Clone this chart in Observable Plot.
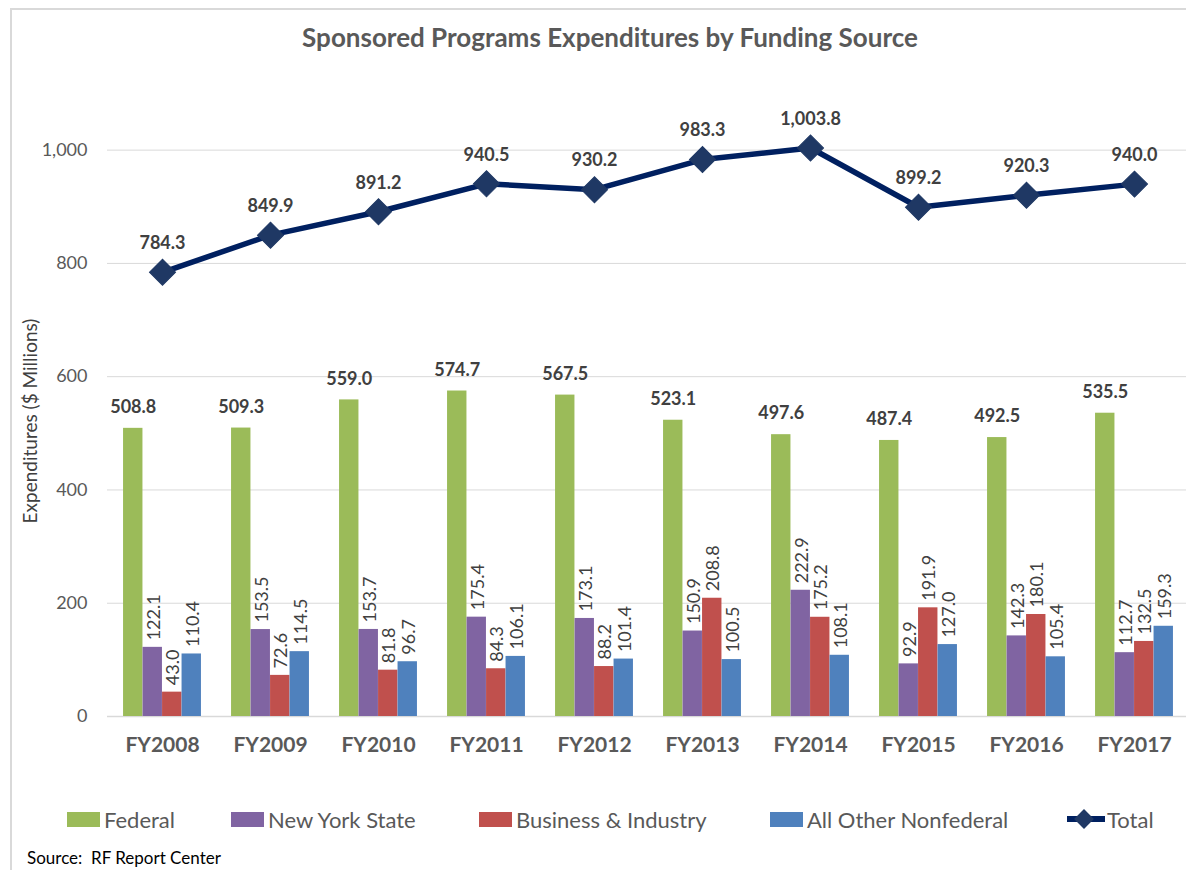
<!DOCTYPE html>
<html>
<head>
<meta charset="utf-8">
<script src="https://cdn.jsdelivr.net/npm/d3@7"></script>
<script src="https://cdn.jsdelivr.net/npm/@observablehq/plot@0.6"></script>
<style>
  html, body { margin: 0; padding: 0; background: #fff; }
  #wrap { position: relative; width: 1186px; height: 870px; overflow: hidden; font-family: Lato, "Open Sans", sans-serif; }
  #frame { position: absolute; left: 10px; top: 8px; width: 1200px; height: 900px; border-left: 2px solid #d9d9d9; border-top: 2px solid #d9d9d9; }
  #title { position: absolute; left: 0; top: 21px; width: 1220px; text-align: center; font-size: 26px; font-weight: bold; color: #595959; }
  #ylabel { position: absolute; left: 29px; top: 421px; transform: translate(-50%, -50%) rotate(-90deg); white-space: nowrap; font-size: 19px; color: #404040; }
  #chart { position: absolute; left: 0; top: 0; }
  .leg { position: absolute; top: 805px; height: 28px; font-size: 22px; color: #595959; display: flex; align-items: center; white-space: nowrap; }
  .sw { width: 33px; height: 15px; margin-right: 4px; }
  #source { position: absolute; left: 27px; top: 847px; font-size: 17px; color: #000; }
</style>
</head>
<body>
<div id="wrap">
  <div id="frame"></div>
  <div id="chart"></div>
  <div id="title">Sponsored Programs Expenditures by Funding Source</div>
  <div id="ylabel">Expenditures ($ Millions)</div>
  <div id="legend"></div>
  <div id="source">Source:&nbsp; RF Report Center</div>
</div>
<script>
const years = ["FY2008","FY2009","FY2010","FY2011","FY2012","FY2013","FY2014","FY2015","FY2016","FY2017"];
const federal = [508.8,509.3,559.0,574.7,567.5,523.1,497.6,487.4,492.5,535.5];
const newYorkState = [122.1,153.5,153.7,175.4,173.1,150.9,222.9,92.9,142.3,112.7];
const businessIndustry = [43.0,72.6,81.8,84.3,88.2,208.8,175.2,191.9,180.1,132.5];
const allOtherNonfederal = [110.4,114.5,96.7,106.1,101.4,100.5,108.1,127.0,105.4,159.3];
const total = [784.3,849.9,891.2,940.5,930.2,983.3,1003.8,899.2,920.3,940.0];
const yTicks = [0,200,400,600,800,1000];

const seriesNames = ["Federal","New York State","Business & Industry","All Other Nonfederal"];
const seriesValues = [federal, newYorkState, businessIndustry, allOtherNonfederal];
const seriesColors = ["#9BBB59","#8064A2","#C0504D","#4F81BD"];

const X0 = 107, X1 = 1188;
const bw = (X1 - X0) / years.length;
const barW = 19.5;
const off = (bw - 4 * barW) / 2;
const labelColor = "#404040";
const fmt1 = d3.format(".1f");
const fmtT = d3.format(",.1f");

const marks = [
  Plot.gridY(yTicks.slice(1), {stroke: "#d9d9d9", strokeOpacity: 1}),
  Plot.ruleY([0], {stroke: "#d9d9d9", strokeWidth: 1.5})
];

seriesValues.forEach((vals, i) => {
  const data = years.map((y, j) => ({year: y, value: vals[j]}));
  marks.push(Plot.barY(data, {
    x: "year", y: "value", fill: seriesColors[i],
    insetLeft: off + barW * i, insetRight: bw - off - barW * (i + 1)
  }));
  const dx = off + barW * (i + 0.5) - bw / 2;
  if (i === 0) {
    marks.push(Plot.text(data, {
      x: "year", y: "value", text: d => fmt1(d.value), dx, dy: -21,
      fontSize: 18, fontWeight: "bold", fill: labelColor
    }));
  } else {
    marks.push(Plot.text(data, {
      x: "year", y: "value", text: d => fmt1(d.value), dx: dx + 1, dy: -7,
      rotate: -90, textAnchor: "start", fontSize: 18, fill: labelColor
    }));
  }
});

const totalData = years.map((y, j) => ({year: y, value: total[j]}));
marks.push(
  Plot.line(totalData, {x: "year", y: "value", stroke: "#002060", strokeWidth: 5.5}),
  Plot.dot(totalData, {x: "year", y: "value", symbol: "square", r: 10.4, rotate: 45, fill: "#1F3864", stroke: "#1F3864", strokeWidth: 1}),
  Plot.text(totalData, {x: "year", y: "value", text: d => fmtT(d.value), dy: -29, fontSize: 18, fontWeight: "bold", fill: labelColor}),
  Plot.axisY({ticks: yTicks, tickFormat: d3.format(",d"), tickSize: 0, tickPadding: 20, fontSize: 18, fill: "#595959", label: null}),
  Plot.axisX({tickSize: 0, tickPadding: 21, fontSize: 21, fontWeight: "bold", fill: "#595959", label: null})
);

const chart = Plot.plot({
  width: 1186,
  height: 760,
  marginTop: 93,
  marginBottom: 44,
  marginLeft: 107,
  marginRight: 0,
  style: {fontFamily: "Lato, 'Open Sans', sans-serif", overflow: "visible", background: "transparent"},
  x: {domain: years, range: [X0, X1], padding: 0},
  y: {domain: [0, 1100], range: [716, 93]},
  marks
});
document.getElementById("chart").appendChild(chart);

// legend
const legend = document.getElementById("legend");
const legX = [67, 231, 479, 770];
seriesNames.forEach((name, i) => {
  const el = document.createElement("div");
  el.className = "leg";
  el.style.left = legX[i] + "px";
  el.innerHTML = `<div class="sw" style="background:${seriesColors[i]}"></div><span>${name}</span>`;
  legend.appendChild(el);
});
const tl = document.createElement("div");
tl.className = "leg";
tl.style.left = "1065px";
tl.innerHTML = `<svg width="42" height="28" style="display:block"><line x1="2" y1="14" x2="40" y2="14" stroke="#002060" stroke-width="6"/><rect x="12" y="7" width="14" height="14" transform="rotate(45 19 14)" fill="#1F3864"/></svg><span>Total</span>`;
legend.appendChild(tl);
</script>
</body>
</html>
